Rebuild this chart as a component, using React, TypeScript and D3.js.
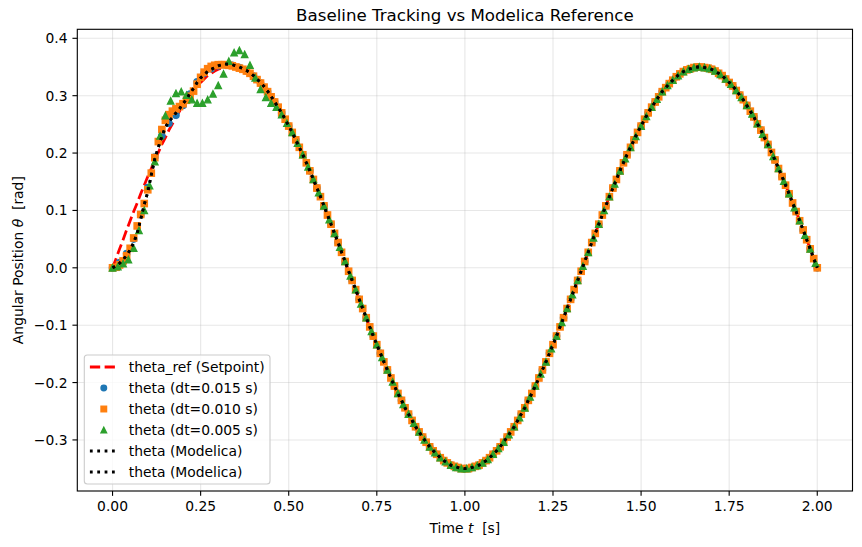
import React from 'react';
import * as d3 from 'd3';

// ---------------- data ----------------
const xTicks = [0, 0.25, 0.5, 0.75, 1.0, 1.25, 1.5, 1.75, 2.0];
const yTicks = [-0.3, -0.2, -0.1, 0, 0.1, 0.2, 0.3, 0.4];

const titleText = 'Baseline Tracking vs Modelica Reference';
const legendLabels = [
  'theta_ref (Setpoint)',
  'theta (dt=0.015 s)',
  'theta (dt=0.010 s)',
  'theta (dt=0.005 s)',
  'theta (Modelica)',
  'theta (Modelica)',
];

// sampling steps (s) of each stored series
const dtRef = 0.01;
const dtBlue = 0.02;
const dtOrange = 0.01;
const dtGreen = 0.015;
const dtModelica = 0.01;

const thetaRef = [
  0.000, 0.016, 0.033, 0.049, 0.066, 0.082, 0.098, 0.113, 0.129, 0.144,
  0.159, 0.173, 0.188, 0.201, 0.215, 0.227, 0.240, 0.251, 0.263, 0.273,
  0.283, 0.293, 0.301, 0.309, 0.317, 0.323, 0.329, 0.335, 0.339, 0.343,
  0.346, 0.348, 0.349, 0.350, 0.350, 0.349, 0.347, 0.345, 0.342, 0.338,
  0.333, 0.327, 0.321, 0.314, 0.307, 0.298, 0.289, 0.280, 0.270, 0.259,
  0.247, 0.236, 0.223, 0.210, 0.197, 0.183, 0.169, 0.154, 0.139, 0.124,
  0.108, 0.092, 0.076, 0.060, 0.044, 0.027, 0.011, -0.006, -0.022, -0.038,
  -0.055, -0.071, -0.087, -0.103, -0.119, -0.134, -0.149, -0.164, -0.178, -0.192,
  -0.206, -0.219, -0.231, -0.244, -0.255, -0.266, -0.277, -0.286, -0.295, -0.304,
  -0.312, -0.319, -0.325, -0.331, -0.336, -0.340, -0.344, -0.346, -0.348, -0.350,
  -0.350, -0.350, -0.348, -0.346, -0.344, -0.340, -0.336, -0.331, -0.325, -0.319,
  -0.312, -0.304, -0.295, -0.286, -0.277, -0.266, -0.255, -0.244, -0.231, -0.219,
  -0.206, -0.192, -0.178, -0.164, -0.149, -0.134, -0.119, -0.103, -0.087, -0.071,
  -0.055, -0.038, -0.022, -0.006, 0.011, 0.027, 0.044, 0.060, 0.076, 0.092,
  0.108, 0.124, 0.139, 0.154, 0.169, 0.183, 0.197, 0.210, 0.223, 0.236,
  0.247, 0.259, 0.270, 0.280, 0.289, 0.298, 0.307, 0.314, 0.321, 0.327,
  0.333, 0.338, 0.342, 0.345, 0.347, 0.349, 0.350, 0.350, 0.349, 0.348,
  0.346, 0.343, 0.339, 0.335, 0.329, 0.323, 0.317, 0.309, 0.301, 0.293,
  0.283, 0.273, 0.263, 0.251, 0.240, 0.227, 0.215, 0.201, 0.188, 0.173,
  0.159, 0.144, 0.129, 0.113, 0.098, 0.082, 0.066, 0.049, 0.033, 0.016,
  0.000,
];

const thetaModelica = [
  0.000, 0.003, 0.008, 0.014, 0.022, 0.031, 0.044, 0.060, 0.085, 0.110,
  0.132, 0.162, 0.190, 0.210, 0.229, 0.245, 0.255, 0.262, 0.270, 0.277,
  0.286, 0.294, 0.304, 0.313, 0.323, 0.331, 0.337, 0.342, 0.346, 0.349,
  0.352, 0.354, 0.355, 0.355, 0.354, 0.352, 0.350, 0.347, 0.344, 0.340,
  0.335, 0.329, 0.323, 0.316, 0.308, 0.299, 0.289, 0.280, 0.270, 0.259,
  0.247, 0.236, 0.223, 0.210, 0.197, 0.183, 0.169, 0.154, 0.139, 0.124,
  0.108, 0.092, 0.076, 0.060, 0.044, 0.027, 0.011, -0.006, -0.022, -0.038,
  -0.055, -0.071, -0.087, -0.103, -0.119, -0.134, -0.149, -0.164, -0.178, -0.192,
  -0.206, -0.219, -0.231, -0.244, -0.255, -0.266, -0.277, -0.286, -0.295, -0.304,
  -0.312, -0.319, -0.325, -0.331, -0.336, -0.340, -0.344, -0.346, -0.348, -0.350,
  -0.350, -0.350, -0.348, -0.346, -0.344, -0.340, -0.336, -0.331, -0.325, -0.319,
  -0.312, -0.304, -0.295, -0.286, -0.277, -0.266, -0.255, -0.244, -0.231, -0.219,
  -0.206, -0.192, -0.178, -0.164, -0.149, -0.134, -0.119, -0.103, -0.087, -0.071,
  -0.055, -0.038, -0.022, -0.006, 0.011, 0.027, 0.044, 0.060, 0.076, 0.092,
  0.108, 0.124, 0.139, 0.154, 0.169, 0.183, 0.197, 0.210, 0.223, 0.236,
  0.247, 0.259, 0.270, 0.280, 0.289, 0.298, 0.307, 0.314, 0.321, 0.327,
  0.333, 0.338, 0.342, 0.345, 0.347, 0.349, 0.350, 0.350, 0.349, 0.348,
  0.346, 0.343, 0.339, 0.335, 0.329, 0.323, 0.317, 0.309, 0.301, 0.293,
  0.283, 0.273, 0.263, 0.251, 0.240, 0.227, 0.215, 0.201, 0.188, 0.173,
  0.159, 0.144, 0.129, 0.113, 0.098, 0.082, 0.066, 0.049, 0.033, 0.016,
  0.000,
];

const thetaOrange = [
  0.000, 0.001, 0.005, 0.012, 0.021, 0.034, 0.052, 0.073, 0.093, 0.112,
  0.136, 0.165, 0.192, 0.220, 0.241, 0.257, 0.267, 0.273, 0.277, 0.281,
  0.286, 0.292, 0.299, 0.308, 0.320, 0.332, 0.341, 0.347, 0.351, 0.353,
  0.354, 0.354, 0.354, 0.353, 0.352, 0.350, 0.348, 0.346, 0.343, 0.339,
  0.334, 0.328, 0.322, 0.315, 0.307, 0.298, 0.289, 0.280, 0.270, 0.259,
  0.247, 0.236, 0.223, 0.210, 0.197, 0.183, 0.169, 0.154, 0.139, 0.124,
  0.108, 0.092, 0.076, 0.060, 0.044, 0.027, 0.011, -0.006, -0.022, -0.038,
  -0.055, -0.071, -0.087, -0.103, -0.119, -0.134, -0.149, -0.164, -0.178, -0.192,
  -0.206, -0.219, -0.231, -0.244, -0.255, -0.266, -0.277, -0.286, -0.295, -0.304,
  -0.312, -0.319, -0.325, -0.331, -0.336, -0.340, -0.344, -0.346, -0.348, -0.350,
  -0.350, -0.350, -0.348, -0.346, -0.344, -0.340, -0.336, -0.331, -0.325, -0.319,
  -0.312, -0.304, -0.295, -0.286, -0.277, -0.266, -0.255, -0.244, -0.231, -0.219,
  -0.206, -0.192, -0.178, -0.164, -0.149, -0.134, -0.119, -0.103, -0.087, -0.071,
  -0.055, -0.038, -0.022, -0.006, 0.011, 0.027, 0.044, 0.060, 0.076, 0.092,
  0.108, 0.124, 0.139, 0.154, 0.169, 0.183, 0.197, 0.210, 0.223, 0.236,
  0.247, 0.259, 0.270, 0.280, 0.289, 0.298, 0.307, 0.314, 0.321, 0.327,
  0.333, 0.338, 0.342, 0.345, 0.347, 0.349, 0.350, 0.350, 0.349, 0.348,
  0.346, 0.343, 0.339, 0.335, 0.329, 0.323, 0.317, 0.309, 0.301, 0.293,
  0.283, 0.273, 0.263, 0.251, 0.240, 0.227, 0.215, 0.201, 0.188, 0.173,
  0.159, 0.144, 0.129, 0.113, 0.098, 0.082, 0.066, 0.049, 0.033, 0.016,
  0.000,
];

const thetaBlue = [
  0.000, 0.009, 0.025, 0.050, 0.092, 0.140, 0.193, 0.230, 0.252, 0.266,
  0.283, 0.303, 0.324, 0.339, 0.347, 0.352, 0.354, 0.353, 0.349, 0.343,
  0.334, 0.322, 0.307, 0.289, 0.270, 0.247, 0.223, 0.197, 0.169, 0.139,
  0.108, 0.076, 0.044, 0.011, -0.022, -0.055, -0.087, -0.119, -0.149, -0.178,
  -0.206, -0.231, -0.255, -0.277, -0.295, -0.312, -0.325, -0.336, -0.344, -0.348,
  -0.350, -0.348, -0.344, -0.336, -0.325, -0.312, -0.295, -0.277, -0.255, -0.231,
  -0.206, -0.178, -0.149, -0.119, -0.087, -0.055, -0.022, 0.011, 0.044, 0.076,
  0.108, 0.139, 0.169, 0.197, 0.223, 0.247, 0.270, 0.289, 0.307, 0.321,
  0.333, 0.342, 0.347, 0.350, 0.349, 0.346, 0.339, 0.329, 0.317, 0.301,
  0.283, 0.263, 0.240, 0.215, 0.188, 0.159, 0.129, 0.098, 0.066, 0.033,
  0.000,
];

const thetaGreen = [
  0.000, 0.002, 0.007, 0.014, 0.034, 0.065, 0.100, 0.143, 0.185, 0.230,
  0.265, 0.291, 0.304, 0.307, 0.301, 0.293, 0.287, 0.287, 0.293, 0.303,
  0.318, 0.338, 0.360, 0.375, 0.379, 0.372, 0.353, 0.331, 0.311, 0.297,
  0.287, 0.280, 0.267, 0.252,
  0.236, 0.217, 0.197, 0.176, 0.154, 0.131, 0.108, 0.084, 0.060, 0.036,
  0.011, -0.014, -0.038, -0.063, -0.087, -0.111, -0.134, -0.156, -0.178, -0.199,
  -0.219, -0.238, -0.255, -0.271, -0.286, -0.300, -0.312, -0.322, -0.331, -0.338,
  -0.344, -0.348, -0.350, -0.350, -0.348, -0.345, -0.340, -0.334, -0.325, -0.315,
  -0.304, -0.291, -0.277, -0.261, -0.244, -0.225, -0.206, -0.185, -0.164, -0.141,
  -0.119, -0.095, -0.071, -0.047, -0.022, 0.003, 0.027, 0.052, 0.076, 0.100,
  0.124, 0.146, 0.169, 0.190, 0.210, 0.229, 0.247, 0.264, 0.280, 0.294,
  0.307, 0.318, 0.327, 0.335, 0.342, 0.346, 0.349, 0.350, 0.349, 0.347,
  0.343, 0.337, 0.329, 0.320, 0.309, 0.297, 0.283, 0.268, 0.251, 0.233,
  0.215, 0.194, 0.173, 0.151, 0.129, 0.105, 0.082, 0.057, 0.033, 0.008,
];

// ---------------- chart ----------------
const FONT = '"DejaVu Sans", sans-serif';
const C_BLUE = '#1f77b4';
const C_ORANGE = '#ff7f0e';
const C_GREEN = '#2ca02c';
const C_RED = '#ff0000';

const PX = 100 / 72; // pt -> px at 100 dpi
const LW = 2 * PX;
const DASH = `${3.7 * LW},${1.6 * LW}`;
const DOT = `${1 * LW},${1.65 * LW}`;
const MS = 4.5 * PX;
const MS_LEG = 4 * PX;
const MEW = 1 * PX;

type Pt = [number, number];
const toPts = (arr: number[], dt: number): Pt[] => arr.map((v, i) => [i * dt, v]);

function Marker({ kind, cx, cy, color, size = MS }: { kind: string; cx: number; cy: number; color: string; size?: number }) {
  const h = size / 2;
  if (kind === 'circle') {
    return <circle cx={cx} cy={cy} r={h} fill={color} stroke={color} strokeWidth={MEW} />;
  }
  if (kind === 'square') {
    return <rect x={cx - h} y={cy - h} width={size} height={size} fill={color} stroke={color} strokeWidth={MEW} />;
  }
  return (
    <polygon
      points={`${cx},${cy - h} ${cx - h},${cy + h} ${cx + h},${cy + h}`}
      fill={color}
      stroke={color}
      strokeWidth={MEW}
      strokeLinejoin="miter"
    />
  );
}

export default function App() {
  const left = 77.3, right = 852.5, top = 29.3, bottom = 491;
  const x = d3.scaleLinear().domain([-0.1, 2.1]).range([left, right]);
  const y = d3.scaleLinear().domain([-0.389, 0.4157]).range([bottom, top]);
  const line = d3.line<Pt>().x((d) => x(d[0])).y((d) => y(d[1]));

  const refPts = toPts(thetaRef, dtRef);
  const bluePts = toPts(thetaBlue, dtBlue);
  const orangePts = toPts(thetaOrange, dtOrange);
  const greenPts = toPts(thetaGreen, dtGreen);
  const modPts = toPts(thetaModelica, dtModelica);

  const fmtX = d3.format('.2f');
  const fmtY = d3.format('.1f');
  const tickLen = 3.5 * PX;
  const pad = 3.5 * PX;
  const fs = 10 * PX;

  const legX = left + 7, legY = 355, legW = 185.7, legH = 129;
  const hx0 = legX + 5.6, hx1 = hx0 + 2 * fs;
  const hxc = (hx0 + hx1) / 2;
  const rowY = (i: number) => 367 + i * 21;

  return (
    <svg
      width={862}
      height={547}
      viewBox="0 0 862 547"
      style={{ position: 'absolute', left: 0, top: 0, background: '#fff' }}
      fontFamily={FONT}
    >
      <rect x={0} y={0} width={862} height={547} fill="#fff" />
      <defs>
        <clipPath id="plotclip">
          <rect x={left} y={top} width={right - left} height={bottom - top} />
        </clipPath>
      </defs>

      {/* grid */}
      <g stroke="#b0b0b0" strokeOpacity={0.3} strokeWidth={0.8 * PX}>
        {xTicks.map((t) => (
          <line key={'gx' + t} x1={x(t)} x2={x(t)} y1={top} y2={bottom} />
        ))}
        {yTicks.map((t) => (
          <line key={'gy' + t} x1={left} x2={right} y1={y(t)} y2={y(t)} />
        ))}
      </g>

      <g clipPath="url(#plotclip)">
        <path d={line(refPts) || ''} fill="none" stroke={C_RED} strokeWidth={LW} strokeDasharray={DASH} />
        {bluePts.map((d, i) => (
          <Marker key={'b' + i} kind="circle" cx={x(d[0])} cy={y(d[1])} color={C_BLUE} />
        ))}
        {orangePts.map((d, i) => (
          <Marker key={'o' + i} kind="square" cx={x(d[0])} cy={y(d[1])} color={C_ORANGE} />
        ))}
        {greenPts.map((d, i) => (
          <Marker key={'g' + i} kind="triangle" cx={x(d[0])} cy={y(d[1])} color={C_GREEN} />
        ))}
        <path d={line(modPts) || ''} fill="none" stroke="#000" strokeWidth={LW} strokeDasharray={DOT} />
        <path d={line(modPts) || ''} fill="none" stroke="#000" strokeWidth={LW} strokeDasharray={DOT} />
      </g>

      {/* spines */}
      <rect x={left} y={top} width={right - left} height={bottom - top} fill="none" stroke="#000" strokeWidth={0.8 * PX} />

      {/* x ticks */}
      {xTicks.map((t) => (
        <g key={'xt' + t}>
          <line x1={x(t)} x2={x(t)} y1={bottom} y2={bottom + tickLen} stroke="#000" strokeWidth={0.8 * PX} />
          <text x={x(t)} y={bottom + tickLen + pad + 10.6} textAnchor="middle" fontSize={fs} fill="#000">
            {fmtX(t)}
          </text>
        </g>
      ))}
      {/* y ticks */}
      {yTicks.map((t) => (
        <g key={'yt' + t}>
          <line x1={left - tickLen} x2={left} y1={y(t)} y2={y(t)} stroke="#000" strokeWidth={0.8 * PX} />
          <text x={left - tickLen - pad} y={y(t)} dy="0.36em" textAnchor="end" fontSize={fs} fill="#000">
            {fmtY(t)}
          </text>
        </g>
      ))}

      {/* title */}
      <text x={(left + right) / 2} y={21} textAnchor="middle" fontSize={12 * PX} fill="#000">
        {titleText}
      </text>

      {/* axis labels */}
      <text x={(left + right) / 2} y={533} textAnchor="middle" fontSize={fs} fill="#000" style={{ whiteSpace: 'pre' }}>
        {'Time '}
        <tspan fontStyle="italic">t</tspan>
        {'  [s]'}
      </text>
      <g transform={`translate(18, ${(top + bottom) / 2}) rotate(-90)`}>
        <text x={0} y={0} dy="0.35em" textAnchor="middle" fontSize={fs} fill="#000" style={{ whiteSpace: 'pre' }}>
          {'Angular Position '}
          <tspan fontStyle="italic">θ</tspan>
          {'  [rad]'}
        </text>
      </g>

      {/* legend */}
      <rect x={legX} y={legY} width={legW} height={legH} rx={3} ry={3} fill="#fff" fillOpacity={0.8} stroke="#cccccc" strokeWidth={0.8 * PX} />
      <line x1={hx0} x2={hx1} y1={rowY(0)} y2={rowY(0)} stroke={C_RED} strokeWidth={LW} strokeDasharray={DASH} />
      <Marker kind="circle" cx={hxc} cy={rowY(1)} color={C_BLUE} size={MS_LEG} />
      <Marker kind="square" cx={hxc} cy={rowY(2)} color={C_ORANGE} size={MS_LEG} />
      <Marker kind="triangle" cx={hxc} cy={rowY(3)} color={C_GREEN} size={MS_LEG} />
      <line x1={hx0} x2={hx1} y1={rowY(4)} y2={rowY(4)} stroke="#000" strokeWidth={LW} strokeDasharray={DOT} />
      <line x1={hx0} x2={hx1} y1={rowY(5)} y2={rowY(5)} stroke="#000" strokeWidth={LW} strokeDasharray={DOT} />
      {legendLabels.map((lab, i) => (
        <text key={'l' + i} x={hx1 + 0.8 * fs} y={rowY(i)} dy="0.36em" fontSize={fs} fill="#000">
          {lab}
        </text>
      ))}
    </svg>
  );
}
